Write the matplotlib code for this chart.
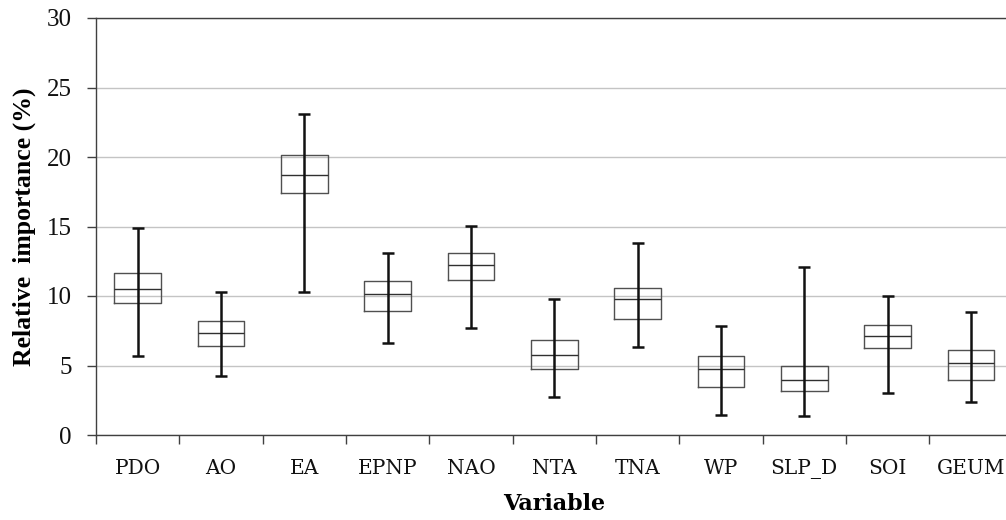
import numpy as np
import matplotlib.pyplot as plt

variables = ['PDO', 'AO', 'EA', 'EPNP', 'NAO', 'NTA', 'TNA', 'WP', 'SLP_D', 'SOI', 'GEUM']
whisker_low = [5.66, 4.27, 10.26, 6.60, 7.70, 2.71, 6.31, 1.46, 1.37, 3.00, 2.35]
q1 = [9.47, 6.38, 17.41, 8.90, 11.15, 4.77, 8.37, 3.48, 3.14, 6.28, 3.96]
median = [10.53, 7.34, 18.73, 10.17, 12.20, 5.73, 9.76, 4.75, 3.96, 7.14, 5.16]
q3 = [11.68, 8.18, 20.14, 11.08, 13.12, 6.86, 10.58, 5.68, 4.99, 7.89, 6.09]
whisker_high = [14.91, 10.26, 23.09, 13.09, 15.06, 9.78, 13.84, 7.86, 12.06, 9.98, 8.87]

fig = plt.figure(figsize=(10.06, 5.2), dpi=100)
ax = fig.add_axes([96 / 1006, 1 - 435 / 520, 916.6 / 1006, 417 / 520])

pos = np.arange(len(variables))
stats = []
for i, v in enumerate(variables):
    stats.append({'label': v, 'med': median[i], 'q1': q1[i], 'q3': q3[i],
                  'whislo': whisker_low[i], 'whishi': whisker_high[i], 'fliers': []})

ax.bxp(stats, positions=pos, widths=0.56, showcaps=False, showfliers=False,
       boxprops=dict(color='#505050', linewidth=1.0),
       medianprops=dict(color='#303030', linewidth=1.0),
       whiskerprops=dict(linewidth=0), zorder=3)

# whiskers run straight through the box
med = np.array(median)
ax.errorbar(pos, med, yerr=[med - np.array(whisker_low), np.array(whisker_high) - med],
            fmt='none', ecolor='#111111', elinewidth=1.8, capsize=4, capthick=1.8, zorder=4)

ax.set_xlim(-0.5, len(variables) - 0.5)
ax.set_ylim(0, 30)
ax.set_yticks(np.arange(0, 31, 5))
ax.grid(axis='y', color='#c4c4c4', linewidth=1.0, zorder=0)
ax.set_axisbelow(True)

ax.set_xticks(pos)
ax.set_xticklabels(variables, fontfamily='DejaVu Serif', fontsize=14.5, color='#111111')
ax.set_xticks(np.arange(-0.5, len(variables)), minor=True)
ax.tick_params(axis='x', which='major', length=0, pad=17)
ax.tick_params(axis='x', which='minor', length=6.5, width=1, color='#404040')
ax.tick_params(axis='y', length=6.5, width=1, color='#404040', pad=11)
for t in ax.get_yticklabels():
    t.set_fontfamily('Liberation Serif')
    t.set_fontsize(18)
    t.set_color('#111111')

for s in ['left', 'bottom', 'top']:
    ax.spines[s].set_color('#404040')
    ax.spines[s].set_linewidth(1.0)
ax.spines['right'].set_visible(False)

fig.text(24 / 1006, 1 - 227 / 520, 'Relative  importance (%)', rotation=90,
         ha='center', va='center', fontfamily='Liberation Serif', fontweight='bold', fontsize=18.5)
fig.text(554 / 1006, 1 - 504 / 520, 'Variable', ha='center', va='center',
         fontfamily='DejaVu Serif', fontweight='bold', fontsize=16)

fig.savefig('out.png', dpi=100)
